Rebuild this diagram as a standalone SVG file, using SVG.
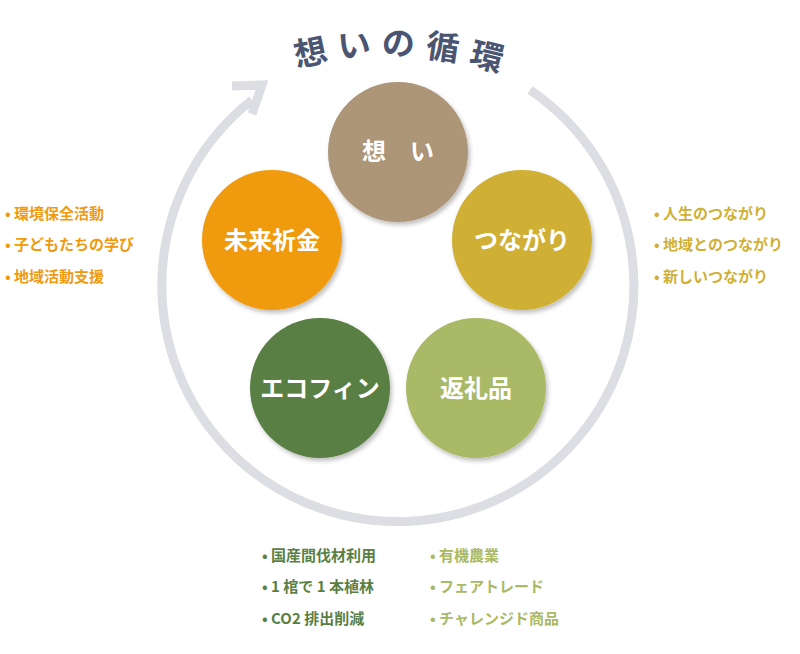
<svg xmlns="http://www.w3.org/2000/svg" width="800" height="654" viewBox="0 0 800 654">
<style>
.t{font-family:"Noto Sans CJK JP","Noto Sans",sans-serif;font-weight:bold}
.c{fill:#fff;font-size:24px;text-anchor:middle}
.l{font-size:15px}
.ttl{fill:#4a5571;font-size:33px;text-anchor:middle}
</style>
<defs>
<filter id="sh" x="-20%" y="-20%" width="140%" height="140%"><feDropShadow dx="2" dy="3" stdDeviation="2" flood-color="#000" flood-opacity="0.25"/></filter>
</defs>
<rect width="800" height="654" fill="#fff"/>
<g id="connectors">
<path d="M530,90 A236,236 0 1 1 252,100" fill="none" stroke="#dcdee3" stroke-width="9"/>
<polyline points="232,86 262,85 252,114" fill="none" stroke="#dcdee3" stroke-width="9" stroke-linejoin="miter"/>
</g>
<g id="title" class="t ttl">
<text transform="translate(313,64) rotate(-12)">想</text>
<text transform="translate(355,57) rotate(-4)">い</text>
<text transform="translate(398,55) rotate(2)">の</text>
<text transform="translate(441,59) rotate(8)">循</text>
<text transform="translate(484,68) rotate(14)">環</text>
</g>
<g id="n1"><circle cx="398" cy="152" r="70" fill="#ad9578" filter="url(#sh)"/><text class="t c" x="398" y="160">想　い</text></g>
<g id="n2"><circle cx="522" cy="240" r="70" fill="#cfb035" filter="url(#sh)"/><text class="t c" x="522" y="249">つながり</text></g>
<g id="n3"><circle cx="476" cy="388" r="70" fill="#aab966" filter="url(#sh)"/><text class="t c" x="476" y="397">返礼品</text></g>
<g id="n4"><circle cx="320" cy="388" r="70" fill="#5a7f45" filter="url(#sh)"/><text class="t c" x="320" y="397">エコフィン</text></g>
<g id="n5"><circle cx="272" cy="240" r="70" fill="#f09a10" filter="url(#sh)"/><text class="t c" x="272" y="249">未来祈金</text></g>
<g id="left" class="t l" fill="#f09a10">
<text x="5" y="219">• 環境保全活動</text>
<text x="5" y="250">• 子どもたちの学び</text>
<text x="5" y="282">• 地域活動支援</text>
</g>
<g id="right" class="t l" fill="#cfb035">
<text x="654" y="219">• 人生のつながり</text>
<text x="654" y="250">• 地域とのつながり</text>
<text x="654" y="282">• 新しいつながり</text>
</g>
<g id="bl" class="t l" fill="#5a7f45">
<text x="262" y="561">• 国産間伐材利用</text>
<text x="262" y="592">• 1 棺で 1 本植林</text>
<text x="262" y="624">• CO2 排出削減</text>
</g>
<g id="br" class="t l" fill="#aab966">
<text x="430" y="561">• 有機農業</text>
<text x="430" y="592">• フェアトレード</text>
<text x="430" y="624">• チャレンジド商品</text>
</g>
</svg>
